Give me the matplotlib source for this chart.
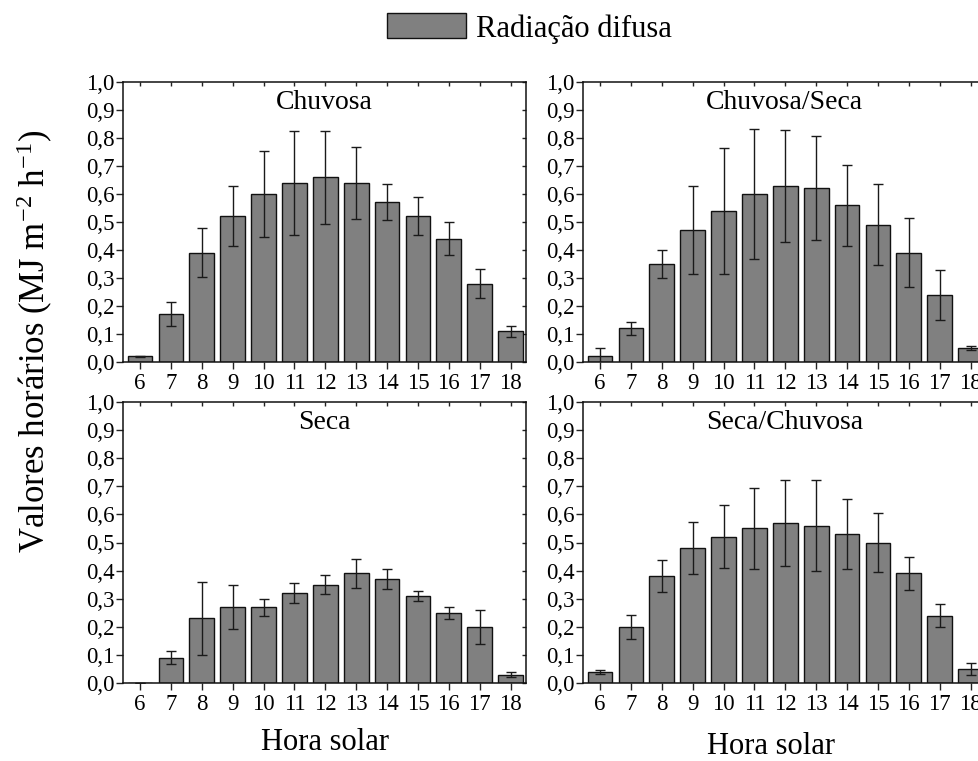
import matplotlib
matplotlib.use("Agg")
import matplotlib.pyplot as plt
from matplotlib.patches import Patch
from matplotlib.ticker import FixedLocator, FuncFormatter

plt.rcParams['font.family'] = ['Liberation Serif', 'DejaVu Serif']
plt.rcParams['mathtext.fontset'] = 'custom'
plt.rcParams['mathtext.rm'] = 'Liberation Serif'
plt.rcParams['mathtext.it'] = 'Liberation Serif:italic'
plt.rcParams['mathtext.bf'] = 'Liberation Serif:bold'

# Hourly diffuse radiation (MJ m-2 h-1), mean and standard deviation per solar hour
hours = [6, 7, 8, 9, 10, 11, 12, 13, 14, 15, 16, 17, 18]
hour_labels = [str(h) for h in hours]

chuvosa = [0.02, 0.17, 0.39, 0.52, 0.60, 0.64, 0.66, 0.64, 0.57, 0.52, 0.44, 0.28, 0.11]
chuvosa_sd = [0.003, 0.043, 0.088, 0.107, 0.155, 0.186, 0.166, 0.128, 0.064, 0.068, 0.059, 0.051, 0.020]

chuvosa_seca = [0.02, 0.12, 0.35, 0.47, 0.54, 0.60, 0.63, 0.62, 0.56, 0.49, 0.39, 0.24, 0.05]
chuvosa_seca_sd = [0.030, 0.022, 0.050, 0.157, 0.225, 0.232, 0.200, 0.186, 0.145, 0.144, 0.123, 0.090, 0.006]

seca = [0.0, 0.09, 0.23, 0.27, 0.27, 0.32, 0.35, 0.39, 0.37, 0.31, 0.25, 0.20, 0.03]
seca_sd = [0.0, 0.024, 0.130, 0.077, 0.030, 0.037, 0.035, 0.052, 0.037, 0.019, 0.021, 0.061, 0.009]

seca_chuvosa = [0.04, 0.20, 0.38, 0.48, 0.52, 0.55, 0.57, 0.56, 0.53, 0.50, 0.39, 0.24, 0.05]
seca_chuvosa_sd = [0.008, 0.042, 0.056, 0.092, 0.112, 0.145, 0.154, 0.163, 0.124, 0.105, 0.060, 0.042, 0.022]

y_ticks = [0.0, 0.1, 0.2, 0.3, 0.4, 0.5, 0.6, 0.7, 0.8, 0.9, 1.0]

panels = [
    ("Chuvosa", chuvosa, chuvosa_sd),
    ("Chuvosa/Seca", chuvosa_seca, chuvosa_seca_sd),
    ("Seca", seca, seca_sd),
    ("Seca/Chuvosa", seca_chuvosa, seca_chuvosa_sd),
]

W, H = 979, 761
fig = plt.figure(figsize=(W / 100, H / 100), dpi=100)

def fx(px):
    return px / W

def fy(py):
    return 1 - py / H

ax_w = 403 / W
boxes = [
    (fx(123), fy(362), ax_w, 280 / H),
    (fx(583), fy(362), ax_w, 280 / H),
    (fx(123), fy(683), ax_w, 281 / H),
    (fx(583), fy(683), ax_w, 281 / H),
]

bar_color = '#808080'
tick_fs = 16.5

for (title, vals, sd), box in zip(panels, boxes):
    ax = fig.add_axes(box)
    ax.bar(hours, vals, width=0.8, color=bar_color, edgecolor='#111111',
           linewidth=1.0, zorder=2)
    ax.errorbar(hours, vals, yerr=sd, fmt='none', ecolor='#1a1a1a',
                elinewidth=1.0, capsize=3.5, capthick=1.0, zorder=3)
    ax.set_xlim(5.45, 18.5)
    ax.set_ylim(0.0, 1.0)
    ax.xaxis.set_major_locator(FixedLocator(hours))
    ax.set_xticklabels(hour_labels)
    ax.yaxis.set_major_locator(FixedLocator(y_ticks))
    ax.yaxis.set_major_formatter(FuncFormatter(lambda v, p: f"{v:.1f}".replace('.', ',')))
    ax.tick_params(axis='both', which='major', labelsize=tick_fs, direction='out',
                   length=5, width=1.0, color='#222222')
    ax.tick_params(axis='x', pad=3)
    ax.tick_params(axis='y', pad=1)
    ax.tick_params(top=True, right=True, labeltop=False, labelright=False)
    # short inward ticks on the top and right spines
    for t in ax.xaxis.get_major_ticks():
        t.tick2line.set_marker(3)
        t.tick2line.set_markersize(3)
    for t in ax.yaxis.get_major_ticks():
        t.tick2line.set_marker(0)
        t.tick2line.set_markersize(3)
    for s in ax.spines.values():
        s.set_linewidth(1.1)
        s.set_color('#111111')
    ax.text(0.5, 1 - 20 / 280, title, transform=ax.transAxes, ha='center',
            va='center', fontsize=20)

# Axis titles
fig.text(fx(325), fy(742), "Hora solar", ha='center', va='center', fontsize=22)
fig.text(fx(771), fy(746), "Hora solar", ha='center', va='center', fontsize=22)
fig.text(fx(35), fy(341), r"Valores horários (MJ m$^{-2}$ h$^{-1}$)", rotation=90,
         ha='center', va='center', fontsize=25)

# Legend
handle = Patch(facecolor=bar_color, edgecolor='#111111', linewidth=1.0)
fig.legend(handles=[handle], labels=["Radiação difusa"], loc='center',
           bbox_to_anchor=(fx(529.5), fy(28.5)), frameon=False, fontsize=22,
           handlelength=2.58, handleheight=0.88, handletextpad=0.33, borderpad=0)

fig.savefig("out.png", dpi=100)
